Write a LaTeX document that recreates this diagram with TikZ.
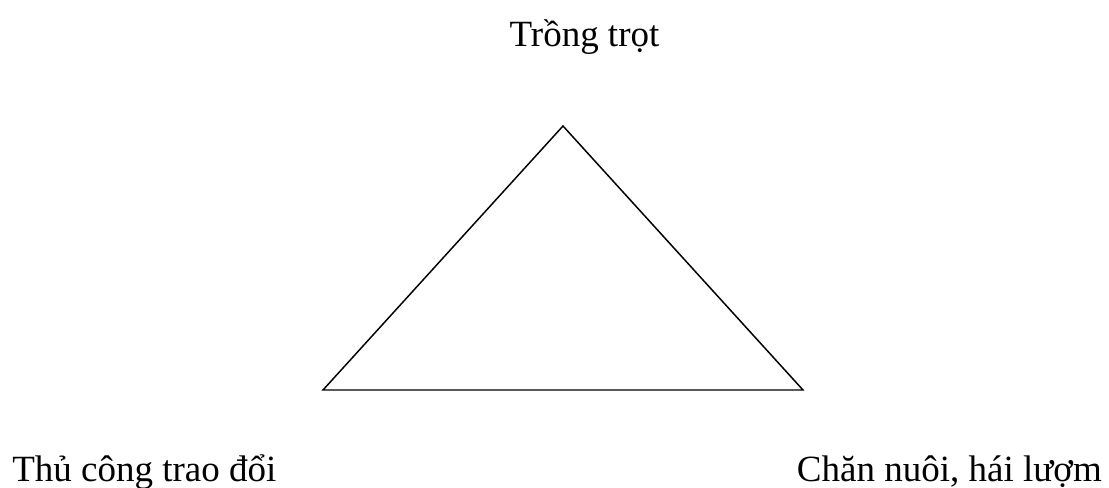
\documentclass[tikz,border=0pt]{standalone}
\usepackage{fontspec}
\setmainfont{Liberation Serif}

\begin{document}
\begin{tikzpicture}[x=0.75pt, y=-0.75pt,
  edge/.style={black, line width=1.1pt, line join=miter},
  label/.style={inner sep=0pt, font=\fontsize{27.75}{33}\selectfont}]

  % page frame
  \useasboundingbox (0,0) rectangle (1109,488);

  % corners of the triangle
  \coordinate (top)   at (563,126);
  \coordinate (left)  at (323,390);
  \coordinate (right) at (803,390);
  \draw[edge] (top) -- (left) -- (right) -- cycle;

  % the three labels
  \node[label, anchor=base]      (crop)  at (584.5,47) {Trồng trọt};
  \node[label, anchor=base west] (craft) at (12,481)   {Thủ công trao đổi};
  \node[label, anchor=base east] (herd)  at (1102,481) {Chăn nuôi, hái lượm};
\end{tikzpicture}
\end{document}
